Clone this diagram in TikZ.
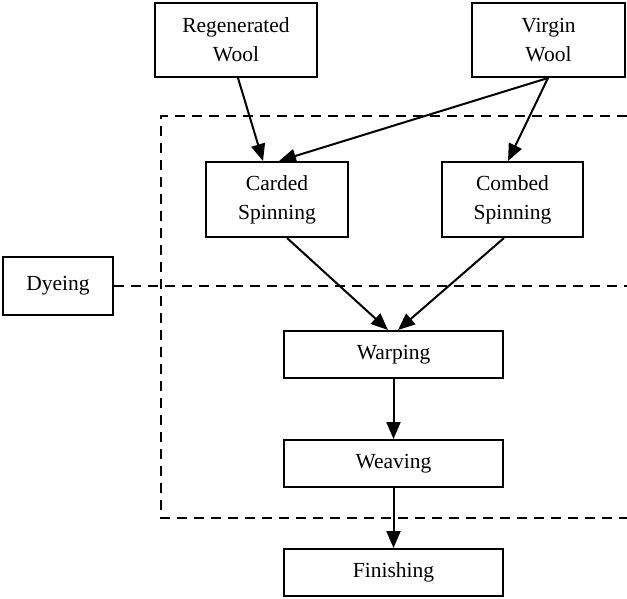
\documentclass[tikz,border=0pt]{standalone}
\usepackage{fontspec}
\setmainfont{Liberation Serif}
\usetikzlibrary{arrows.meta}
\begin{document}
\begin{tikzpicture}[x=1pt,y=-1pt,
  box/.style={draw,line width=2pt,inner sep=0pt,align=center,
    font=\fontsize{21.5}{29}\selectfont},
  conn/.style={line width=2pt,-{Triangle[length=17pt,width=14pt]}},
  region/.style={line width=2.8pt,dash pattern=on 10pt off 7pt}]
\useasboundingbox (0,0) rectangle (627,598);
\node[box,minimum width=162pt,minimum height=74pt] (reg) at (236,40) {Regenerated\\Wool};
\node[box,minimum width=153pt,minimum height=74pt] (vir) at (548.5,40) {Virgin\\Wool};
\node[box,minimum width=142pt,minimum height=75pt] (card) at (277,199.5) {Carded\\Spinning};
\node[box,minimum width=141pt,minimum height=75pt] (comb) at (512.5,199.5) {Combed\\Spinning};
\node[box,minimum width=110pt,minimum height=58pt] (dye) at (58,286) {Dyeing};
\node[box,minimum width=219pt,minimum height=47pt] (warp) at (393.5,354.5) {Warping};
\node[box,minimum width=219pt,minimum height=47pt] (weav) at (393.5,463.5) {Weaving};
\node[box,minimum width=219pt,minimum height=47pt] (fin) at (393.5,572.5) {Finishing};
% dashed region
\coordinate (rtop) at (627,116);
\coordinate (rbot) at (627,518);
\coordinate (rmid) at (627,286);
\draw[region] (rtop) -- (161,116) -- (161,518) -- (rbot);
\draw[region] (dye.east) -- (rmid);
% connectors
\draw[conn] (reg.south -| 238,0) -- (card.north -| 263,0);
\draw[conn] (vir.south -| 548,0) -- (card.north -| 279,0);
\draw[conn] (vir.south -| 548,0) -- (comb.north -| 508,0);
\draw[conn] (card.south -| 287,0) -- (warp.north -| 388,0);
\draw[conn] (comb.south -| 504,0) -- (warp.north -| 398,0);
\draw[conn] (warp) -- (weav);
\draw[conn] (weav) -- (fin);
\end{tikzpicture}
\end{document}
